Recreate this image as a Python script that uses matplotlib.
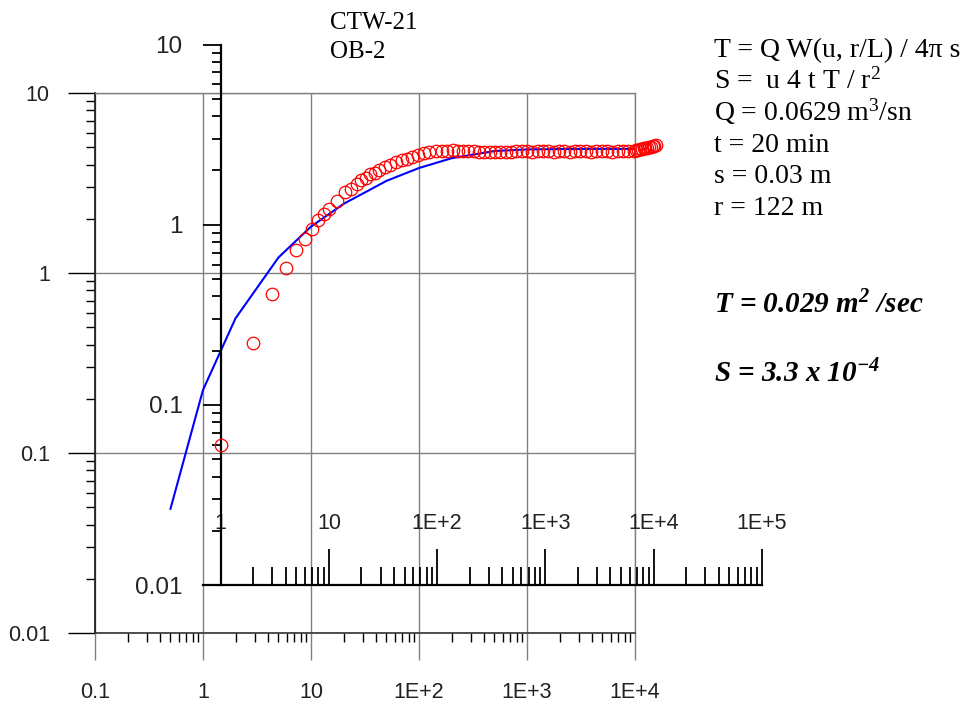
import matplotlib
matplotlib.use("Agg")
import matplotlib.pyplot as plt
from matplotlib.ticker import FixedLocator, FixedFormatter, LogLocator, NullFormatter

# type curve on the back axes: 1/u against W(u, r/L)
curve_inv_u = [0.5, 1, 2, 5, 10, 20, 50, 100, 200, 500, 1000, 2000, 5000, 10000]
curve_w = [0.049, 0.224, 0.56, 1.22, 1.81, 2.42, 3.25, 3.83, 4.34, 4.76, 4.86, 4.88, 4.89, 4.89]

# observation well data on the overlay axes: time (min) against drawdown (m)
obs_time = [1, 2, 3, 4, 5, 6, 7, 8, 9, 10, 12, 14, 16, 18, 20, 22, 24, 26.5, 29,
            32.7, 36.8, 41.8, 47, 52.8, 59, 66, 75, 85, 98.5, 110, 124,
            139, 155, 174, 195, 218, 245, 274, 307, 344, 385,
            431, 483, 541, 606, 679, 760, 851, 953, 1070, 1200,
            1340, 1500, 1680, 1880, 2110, 2360, 2650, 2970, 3320, 3720,
            4170, 4670, 5230, 5860, 6560,
            6900, 7200, 7500, 7800, 8100, 8400, 8700, 9000, 9400, 9800, 10200, 10600]
obs_drawdown = [0.060, 0.221, 0.412, 0.572, 0.726, 0.833, 0.950, 1.057, 1.147, 1.22,
                1.35, 1.51, 1.585, 1.68, 1.76, 1.82, 1.90, 1.94, 2.00,
                2.09, 2.15, 2.22, 2.28, 2.32, 2.38, 2.45, 2.50, 2.54, 2.55, 2.58, 2.58,
                2.59, 2.58, 2.57, 2.56, 2.55, 2.53, 2.52, 2.53, 2.52, 2.53,
                2.54, 2.53, 2.55, 2.56, 2.55, 2.54, 2.55, 2.56, 2.55, 2.54,
                2.55, 2.56, 2.54, 2.55, 2.56, 2.55, 2.54, 2.55, 2.56, 2.55,
                2.54, 2.55, 2.56, 2.57, 2.58,
                2.60, 2.61, 2.62, 2.63, 2.65, 2.66, 2.68, 2.69, 2.71, 2.73, 2.75, 2.77]

back_xticks = [0.1, 1, 10, 100, 1000, 10000]
back_xlabels = ["0.1", "1", "10", "1E+2", "1E+3", "1E+4"]
back_yticks = [0.01, 0.1, 1, 10]
back_ylabels = ["0.01", "0.1", "1", "10"]
front_xticks = [1, 10, 100, 1000, 10000, 100000]
front_xlabels = ["1", "10", "1E+2", "1E+3", "1E+4", "1E+5"]
front_yticks = [0.01, 0.1, 1, 10]
front_ylabels = ["0.01", "0.1", "1", "10"]

info_lines = ["T = Q W(u, r/L) / 4\u03c0 s",
              "S =  u 4 t T / r$^2$",
              "Q = 0.0629 m$^3$/sn",
              "t = 20 min",
              "s = 0.03 m",
              "r = 122 m"]

plt.rcParams["font.family"] = "Liberation Sans"
plt.rcParams["mathtext.fontset"] = "custom"
plt.rcParams["mathtext.rm"] = "Liberation Serif"
plt.rcParams["mathtext.it"] = "Liberation Serif:italic"
plt.rcParams["mathtext.bf"] = "Liberation Serif:bold:italic"

W, H = 965, 702
GRID = "#808080"
INK = "#222222"


def box(x0, y0, x1, y1):
    return [x0 / W, 1 - y1 / H, (x1 - x0) / W, (y1 - y0) / H]


fig = plt.figure(figsize=(W / 100, H / 100), dpi=100)

# back axes (type curve)
ax = fig.add_axes(box(95, 93, 635, 633))
ax.set_xscale("log")
ax.set_yscale("log")
ax.set_xlim(0.1, 1e4)
ax.set_ylim(0.01, 10)
ax.xaxis.set_major_locator(FixedLocator(back_xticks))
ax.xaxis.set_major_formatter(FixedFormatter(back_xlabels))
ax.yaxis.set_major_locator(FixedLocator(back_yticks))
ax.yaxis.set_major_formatter(FixedFormatter(back_ylabels))
for axis in (ax.xaxis, ax.yaxis):
    axis.set_minor_locator(LogLocator(base=10, subs=range(2, 10)))
    axis.set_minor_formatter(NullFormatter())
ax.grid(True, which="major", color=GRID, lw=1)
ax.tick_params(which="major", direction="out", length=19.5, width=1,
               labelsize=15.5, labelcolor=INK)
ax.tick_params(which="minor", direction="out", length=6.5, width=1, color="black")
ax.tick_params(axis="x", which="major", color=GRID, pad=16)
ax.tick_params(axis="y", which="major", color="black", pad=13)
for side in ("top", "right"):
    ax.spines[side].set_color(GRID)
    ax.spines[side].set_linewidth(1)
ax.spines["left"].set_color("#222222")
ax.spines["left"].set_linewidth(1.3)
ax.spines["bottom"].set_color("#333333")
ax.spines["bottom"].set_linewidth(1.2)
ax.set_axisbelow(True)
ax.plot(curve_inv_u, curve_w, color="#0000ff", lw=1.5, zorder=3)

# overlay axes (field data)
ax2 = fig.add_axes(box(203, 44.5, 761.7, 585))
ax2.patch.set_visible(False)
ax2.set_xscale("log")
ax2.set_yscale("log")
ax2.set_xlim(10 ** (-17.7 / 108), 1e5)
ax2.set_ylim(0.01, 10)
ax2.xaxis.set_major_locator(FixedLocator(front_xticks))
ax2.xaxis.set_major_formatter(FixedFormatter(front_xlabels))
ax2.yaxis.set_major_locator(FixedLocator(front_yticks))
ax2.yaxis.set_major_formatter(FixedFormatter(front_ylabels))
# minor ticks only from the first decade on, none left of the y axis
front_xminor = [m * d for d in front_xticks[:-1] for m in range(2, 10)]
ax2.xaxis.set_minor_locator(FixedLocator(front_xminor))
ax2.xaxis.set_minor_formatter(NullFormatter())
ax2.yaxis.set_minor_locator(LogLocator(base=10, subs=range(2, 10)))
ax2.yaxis.set_minor_formatter(NullFormatter())
ax2.spines["right"].set_visible(False)
ax2.spines["bottom"].set_visible(False)
ax2.spines["left"].set_position(("data", 1))
ax2.spines["top"].set_position(("data", 0.01))
for side in ("left", "top"):
    ax2.spines[side].set_linewidth(1.6)
    ax2.spines[side].set_color("black")
ax2.xaxis.set_ticks_position("top")
ax2.tick_params(axis="x", which="both", top=True, bottom=False,
                labeltop=True, labelbottom=False, direction="out", width=1.3)
ax2.tick_params(axis="x", which="major", length=26, pad=11, labelsize=15.5, labelcolor=INK)
ax2.tick_params(axis="x", which="minor", length=13)
ax2.tick_params(axis="y", which="both", direction="out", width=1.3)
ax2.tick_params(axis="y", which="major", length=13, pad=14.5, labelsize=17.5, labelcolor=INK)
ax2.tick_params(axis="y", which="minor", length=6.5)
ax2.plot(obs_time, obs_drawdown, "o", mfc="none", mec="#ff0000", ms=9, mew=0.9,
         clip_on=False, zorder=4)

# annotations
serif = "Liberation Serif"
fig.text(330 / W, 1 - 29 / H, "CTW-21", fontsize=18, family=serif, va="baseline")
fig.text(330 / W, 1 - 58 / H, "OB-2", fontsize=18, family=serif, va="baseline")
for i, line in enumerate(info_lines):
    fig.text(714 / W, 1 - (57 + 31.6 * i) / H, line, fontsize=20, family=serif, va="baseline")
fig.text(714 / W, 1 - 313 / H, r"T = 0.029 m$^{\mathbf{2}}$ /sec", fontsize=21,
         family=serif, fontweight="bold", fontstyle="italic", va="baseline")
fig.text(714 / W, 1 - 382 / H, r"S = 3.3 x 10$^{\mathbf{-4}}$", fontsize=21,
         family=serif, fontweight="bold", fontstyle="italic", va="baseline")

fig.savefig("out.png", dpi=100, facecolor="white")
